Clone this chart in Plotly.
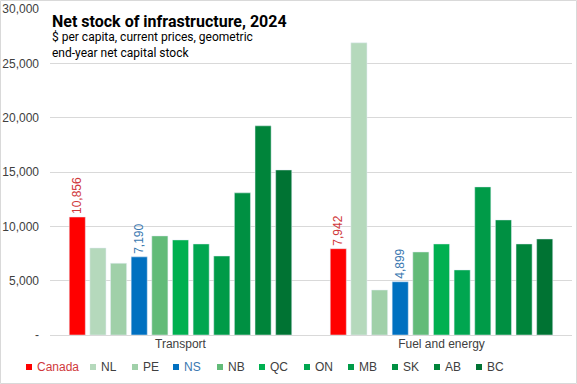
import plotly.graph_objects as go

categories = ["Transport", "Fuel and energy"]
regions = ["Canada", "NL", "PE", "NS", "NB", "QC", "ON", "MB", "SK", "AB", "BC"]
transport = [10856, 8010, 6600, 7190, 9120, 8750, 8380, 7270, 13080, 19250, 15190]
fuel_energy = [7942, 26890, 4140, 4899, 7640, 8380, 5990, 13630, 10590, 8380, 8840]
labelled = ["Canada", "NS"]
y_ticks = [0, 5000, 10000, 15000, 20000, 25000, 30000]
y_tick_text = ["-", "5,000", "10,000", "15,000", "20,000", "25,000", "30,000"]

colors = {
    "Canada": "#FF0000", "NL": "#B5D9BC", "PE": "#A0D0A9", "NS": "#0070C0",
    "NB": "#62BB78", "QC": "#00B050", "ON": "#00A650", "MB": "#009B48",
    "SK": "#009042", "AB": "#00843A", "BC": "#007333",
}
label_colors = {"Canada": "#D0393B", "NS": "#3A78B0"}
legend_text_colors = {"Canada": "#D0393B", "NS": "#3A78B0"}

W, H = 577, 384
ml, mr, mt, mb = 50, 5, 9, 49
pw, ph = W - ml - mr, H - mt - mb

fig = go.Figure()
for i, r in enumerate(regions):
    vals = [transport[i], fuel_energy[i]]
    tr = dict(x=categories, y=vals, name=r, marker_color=colors[r],
              showlegend=False, hoverinfo="x+y+name")
    if r in labelled:
        tr.update(text=[f"{v:,}" for v in vals], textposition="outside",
                  textangle=-90, cliponaxis=False,
                  textfont=dict(color=label_colors[r], size=12,
                                family="Liberation Sans"))
    fig.add_trace(go.Bar(**tr))

# custom legend
legend_sq_px = [29, 93, 135, 176, 220, 262, 307, 351, 395, 437, 479]
legend_y_px = 367
shapes = []
annotations = []
for r, px in zip(regions, legend_sq_px):
    x0 = (px - 3 - ml) / pw
    x1 = (px + 3 - ml) / pw
    y0 = (H - mb - (legend_y_px + 3)) / ph
    y1 = (H - mb - (legend_y_px - 3)) / ph
    shapes.append(dict(type="rect", xref="paper", yref="paper", x0=x0, x1=x1,
                       y0=y0, y1=y1, fillcolor=colors[r], line_width=0))
    annotations.append(dict(xref="paper", yref="paper", x=(px + 6 - ml) / pw,
                            y=(H - mb - legend_y_px) / ph, xanchor="left",
                            yanchor="middle", showarrow=False, text=r,
                            font=dict(size=12, family="Liberation Sans",
                                      color=legend_text_colors.get(r, "#404040"))))

# outer border
shapes.append(dict(type="rect", xref="paper", yref="paper",
                   x0=(0.5 - ml) / pw, x1=(W - 0.5 - ml) / pw,
                   y0=(0.5 - mb) / ph, y1=(H - 0.5 - mb) / ph,
                   line=dict(color="#D9D9D9", width=1), layer="below"))

annotations.append(dict(xref="paper", yref="paper", x=(50 - ml) / pw,
                        y=(H - mb - 10) / ph, xanchor="left", yanchor="top",
                        showarrow=False, align="left",
                        text="<b>Net stock of infrastructure, 2024</b>",
                        font=dict(size=16, family="Roboto", color="#000000")))
annotations.append(dict(xref="paper", yref="paper", x=(50 - ml) / pw,
                        y=(H - mb - 28) / ph, xanchor="left", yanchor="top",
                        showarrow=False, align="left",
                        text="$ per capita, current prices, geometric<br>end-year net capital stock",
                        font=dict(size=12, family="Roboto", color="#000000")))

fig.update_layout(
    width=W, height=H,
    margin=dict(l=ml, r=mr, t=mt, b=mb),
    paper_bgcolor="white", plot_bgcolor="white",
    barmode="group", bargap=0.13, bargroupgap=0.22,
    uniformtext=dict(minsize=12, mode="show"),
    font=dict(family="Liberation Sans", size=11, color="#404040"),
    shapes=shapes, annotations=annotations,
    xaxis=dict(showgrid=False, showline=True, linecolor="#D9D9D9", linewidth=1,
               ticks="", automargin=False, ticklabelstandoff=-2,
               tickfont=dict(size=12, color="#404040"), fixedrange=True),
    yaxis=dict(range=[0, 30000], tickvals=y_ticks, ticktext=y_tick_text,
               showgrid=True, gridcolor="#D9D9D9", gridwidth=1, zeroline=False,
               ticks="", ticklabelstandoff=10, automargin=False,
               tickfont=dict(size=12, color="#404040"), fixedrange=True),
)

fig.write_html("out.html", config={"displayModeBar": False},
               post_script="document.body.style.margin='0';document.body.style.overflow='hidden';")
